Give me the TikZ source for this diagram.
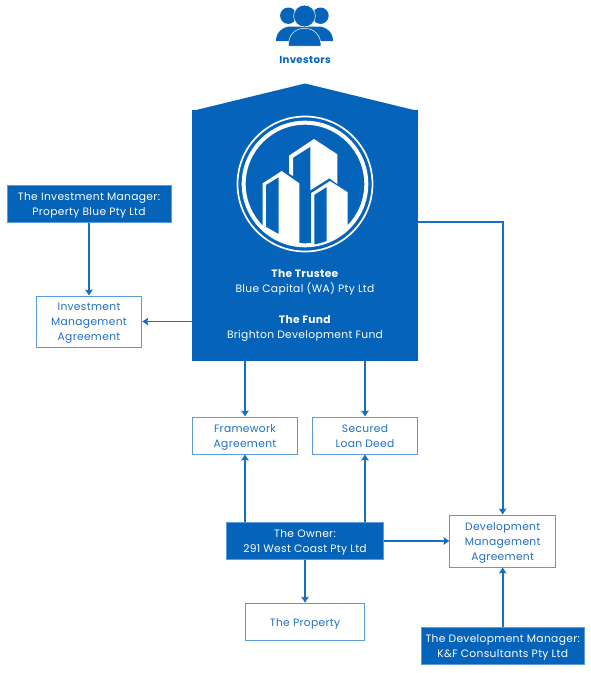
\documentclass[tikz,border=0pt]{standalone}
\usepackage{fontspec}
\setmainfont[LetterSpace=3]{Poppins}
\usetikzlibrary{arrows.meta}
\definecolor{brand}{HTML}{0563B9}
\definecolor{edge}{HTML}{5B9BDC}
\definecolor{ink}{HTML}{1F6FC4}
\newcommand{\boxlines}[1]{\raisebox{-1.4pt}[\height][\depth]{\begin{tabular}{@{}c@{}}#1\end{tabular}}}
\tikzset{
  x=1pt,y=-1pt,
  labeltext/.style={font=\fontsize{10.7}{15}\selectfont,align=center,inner sep=0pt},
  solidbox/.style={labeltext,fill=brand,draw=edge,line width=0.8pt,text=white},
  openbox/.style={labeltext,fill=white,draw=edge,line width=1pt,text=ink},
  link/.style={draw=brand!92!white,line width=1.7pt,-{Stealth[length=6pt,width=7.5pt,inset=1pt]}},
  boxsize/.style n args={2}{minimum width=#1,minimum height=#2}
}
\begin{document}
\begin{tikzpicture}
\useasboundingbox (0,0) rectangle (591,673);
% investors icon
\fill[brand] (288.3,15.7) circle (8.2) (320.5,15.7) circle (8.2);
\fill[brand] (276,41) .. controls (276,32) and (283,26.5) .. (291,26.5) -- (318,26.5) .. controls (326,26.5) and (333,32) .. (333,41) -- cycle;
\fill[brand,draw=white,line width=0.5pt] (304.5,16) circle (10.9);
\fill[brand,draw=white,line width=0.5pt] (288.3,46) .. controls (288.3,35) and (295,28.3) .. (304.5,28.3) .. controls (314,28.3) and (321,35) .. (321,46) -- cycle;
\node[font=\fontsize{10.2}{12}\selectfont\bfseries,text=brand,inner sep=0pt] (investors) at (305,59.5) {Investors};
% fund house
\fill[brand] (192,111) -- (305,83.5) -- (418,111) -- (418,120) -- (192,120) -- cycle;
\node[fill=brand,inner sep=0pt,boxsize={226}{251}] (fund) at (305,235.5) {};
% logo
\draw[white,line width=1.7pt] (305,184) circle (67.5);
\draw[white,line width=4pt] (305,184) circle (61.3);
\begin{scope}
\clip (305,184) circle (61);
\fill[white] (262.7,183.3) -- (281.7,171) -- (299.3,183.3) -- (299.3,250) -- (262.7,250) -- cycle;
\fill[brand] (266,185) -- (278.7,177.3) -- (278.7,234) -- (266,226.7) -- cycle;
\fill[white] (289,155.7) -- (314,139) -- (337.3,154.3) -- (337.3,184) -- (329.3,178.3) -- (310.3,190.3) -- (310.3,146.7) -- (293,157.7) -- (293,176) -- (289,173.5) -- cycle;
\fill[white] (311,193.3) -- (330,181) -- (347.7,192.3) -- (347.7,250) -- (311,250) -- cycle;
\fill[brand] (314.3,195) -- (326.7,187) -- (326.7,250) -- (314.3,250) -- cycle;
\end{scope}
% fund text
\node[labeltext,text=white] (trustee) at (305,282) {\textbf{The Trustee}\\Blue Capital (WA) Pty Ltd};
\node[labeltext,text=white] (fundname) at (305,328) {\textbf{The Fund}\\Brighton Development Fund};
% boxes
\node[solidbox,boxsize={164}{37}] (im) at (89,203.8) {\boxlines{The Investment Manager:\\Property Blue Pty Ltd}};
\node[openbox,boxsize={105.5}{51}] (ima) at (89,321.5) {\boxlines{Investment\\Management\\Agreement}};
\node[openbox,boxsize={105.5}{37}] (fw) at (245,435.5) {\boxlines{Framework\\Agreement}};
\node[openbox,boxsize={105.5}{37}] (sl) at (365,435.5) {\boxlines{Secured\\Loan Deed}};
\node[solidbox,boxsize={156.5}{37}] (owner) at (305,541) {\boxlines{The Owner:\\291 West Coast Pty Ltd}};
\node[openbox,boxsize={119.5}{37}] (prop) at (305,621.7) {\boxlines{The Property}};
\node[openbox,boxsize={105.5}{52}] (dma) at (502.7,541) {\boxlines{Development\\Management\\Agreement}};
\node[solidbox,boxsize={163}{37.5}] (dm) at (502.7,646) {\boxlines{The Development Manager:\\K\&F Consultants Pty Ltd}};
% connectors
\draw[link] (im.south) -- (ima.north);
\draw[link] (fund.west |- ima.east) -- (ima.east);
\draw[link] (fund.south -| fw.north) -- (fw.north);
\draw[link] (fund.south -| sl.north) -- (sl.north);
\draw[link] (owner.north -| fw.south) -- (fw.south);
\draw[link] (owner.north -| sl.south) -- (sl.south);
\draw[link] (owner.south) -- (prop.north);
\draw[link] (owner.east) -- (dma.west);
\draw[link] (dm.north) -- (dma.south);
\coordinate (fundexit) at (fund.east |- 0,222);
\draw[link] (fundexit) -| (dma.north);
\end{tikzpicture}
\end{document}
